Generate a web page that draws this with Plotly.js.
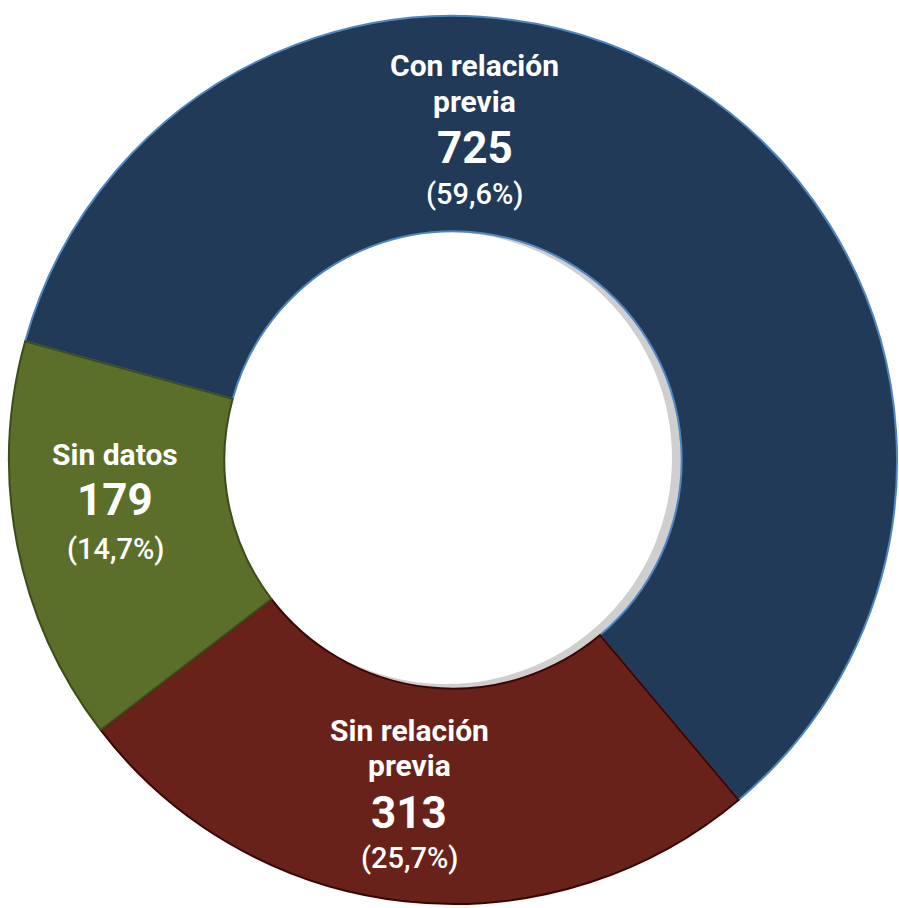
<!DOCTYPE html>
<html>
<head>
<meta charset="utf-8">
<script src="https://cdn.plot.ly/plotly-3.0.1.min.js"></script>
<style>
  html, body { margin: 0; padding: 0; background: #fff; }
  #chart { width: 899px; height: 908px; }
</style>
</head>
<body>
<div id="chart"></div>
<script>
// data
var labels = ['Con relación previa', 'Sin relación previa', 'Sin datos'];
var nameLines = [['Con relación', 'previa'], ['Sin relación', 'previa'], ['Sin datos']];
var values = [725, 313, 179];
var colors = ['#213a57', '#692219', '#5b6f2a'];
var edgeColors = ['#4f86c0', '#3a0604', '#3b4d1a'];

var W = 899, H = 908;
var total = values.reduce(function (a, b) { return a + b; }, 0);

function pct(v) {
  return '(' + (v / total * 100).toFixed(1).replace('.', ',') + '%)';
}
function px(x) { return x / W; }
function py(y) { return 1 - y / H; }

var trace = {
  type: 'pie',
  labels: labels,
  values: values,
  sort: false,
  direction: 'clockwise',
  rotation: 285.5,
  hole: 0.515,
  textinfo: 'none',
  marker: { colors: colors, line: { color: edgeColors, width: 2 } },
  domain: { x: [px(9), px(897)], y: [py(904), py(16)] },
  showlegend: false
};

// label line centres (pixels): name lines, number, percent
var labelPos = [
  { x: 475, names: [65, 102], num: 148, pct: 194 },
  { x: 409, names: [730, 765], num: 813, pct: 858 },
  { x: 115, names: [455], num: 500, pct: 549 }
];

var annotations = [];
labelPos.forEach(function (p, i) {
  nameLines[i].forEach(function (line, j) {
    annotations.push({
      xref: 'paper', yref: 'paper', x: px(p.x), y: py(p.names[j]),
      text: '<b>' + line + '</b>', showarrow: false,
      xanchor: 'center', yanchor: 'middle',
      font: { family: 'Roboto', size: 30, color: '#ffffff' }
    });
  });
  annotations.push({
    xref: 'paper', yref: 'paper', x: px(p.x), y: py(p.num),
    text: '<b>' + values[i] + '</b>', showarrow: false,
    xanchor: 'center', yanchor: 'middle',
    font: { family: 'Roboto', size: 44, color: '#ffffff' }
  });
  annotations.push({
    xref: 'paper', yref: 'paper', x: px(p.x), y: py(p.pct),
    text: pct(values[i]), showarrow: false,
    xanchor: 'center', yanchor: 'middle',
    font: { family: 'Roboto', size: 29, weight: 500, color: '#ffffff' }
  });
});

// soft shadow inside the hole
var shapes = [
  { type: 'circle', xref: 'paper', yref: 'paper', layer: 'below',
    x0: px(453 - 229), x1: px(453 + 229), y0: py(460 + 229), y1: py(460 - 229),
    fillcolor: '#cfcfcf', line: { width: 0 } },
  { type: 'circle', xref: 'paper', yref: 'paper', layer: 'below',
    x0: px(446 - 226), x1: px(446 + 226), y0: py(458 + 226), y1: py(458 - 226),
    fillcolor: '#ffffff', line: { width: 0 } }
];

var layout = {
  width: W, height: H,
  margin: { l: 0, r: 0, t: 0, b: 0 },
  paper_bgcolor: '#ffffff',
  annotations: annotations,
  shapes: shapes
};

Plotly.newPlot('chart', [trace], layout, { displayModeBar: false, staticPlot: true });
</script>
</body>
</html>
